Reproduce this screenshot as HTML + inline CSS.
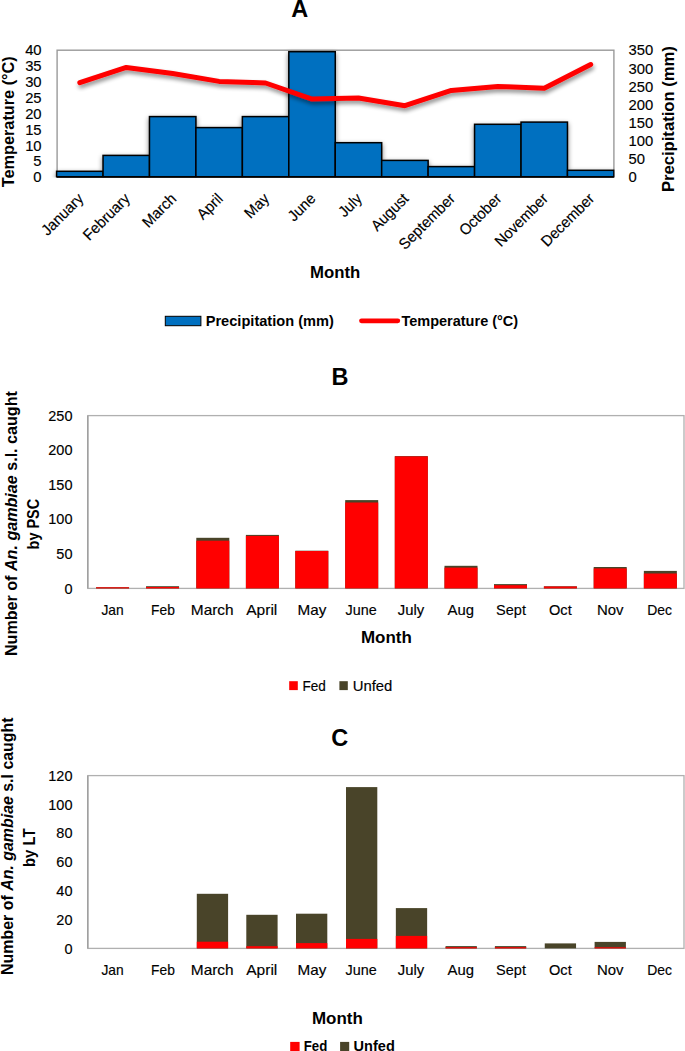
<!DOCTYPE html><html><head><meta charset="utf-8"><style>html,body{margin:0;padding:0;background:#fff;overflow:hidden;}svg{display:block;}text{font-family:"Liberation Sans", sans-serif;fill:#000;}text[font-weight="normal"]{stroke:#000;stroke-width:0.15px;}</style></head><body>
<svg width="685" height="1051" viewBox="0 0 685 1051">
<rect x="0" y="0" width="685" height="1051" fill="#fff"/>
<defs><filter id="sh" x="-20%" y="-20%" width="140%" height="150%"><feGaussianBlur in="SourceAlpha" stdDeviation="2.4"/><feOffset dx="0" dy="2"/><feComponentTransfer><feFuncA type="linear" slope="0.5"/></feComponentTransfer><feMerge><feMergeNode/><feMergeNode in="SourceGraphic"/></feMerge></filter><filter id="shl" x="-10%" y="-30%" width="120%" height="180%"><feGaussianBlur in="SourceAlpha" stdDeviation="2"/><feOffset dx="1" dy="2.5"/><feComponentTransfer><feFuncA type="linear" slope="0.45"/></feComponentTransfer><feMerge><feMergeNode/><feMergeNode in="SourceGraphic"/></feMerge></filter><clipPath id="clipA"><rect x="50" y="40" width="564.6" height="137.6"/></clipPath></defs>
<text x="299.7" y="17.0" font-size="23.5" font-weight="bold" text-anchor="middle">A</text>
<text x="41.6" y="182.2" font-size="14.8" font-weight="normal" text-anchor="end">0</text>
<text x="41.6" y="166.35" font-size="14.8" font-weight="normal" text-anchor="end">5</text>
<text x="41.6" y="150.5" font-size="14.8" font-weight="normal" text-anchor="end">10</text>
<text x="41.6" y="134.65" font-size="14.8" font-weight="normal" text-anchor="end">15</text>
<text x="41.6" y="118.8" font-size="14.8" font-weight="normal" text-anchor="end">20</text>
<text x="41.6" y="102.95" font-size="14.8" font-weight="normal" text-anchor="end">25</text>
<text x="41.6" y="87.1" font-size="14.8" font-weight="normal" text-anchor="end">30</text>
<text x="41.6" y="71.25" font-size="14.8" font-weight="normal" text-anchor="end">35</text>
<text x="41.6" y="55.4" font-size="14.8" font-weight="normal" text-anchor="end">40</text>
<text x="628.6" y="182.2" font-size="14.8" font-weight="normal" text-anchor="start">0</text>
<text x="628.6" y="164.09" font-size="14.8" font-weight="normal" text-anchor="start">50</text>
<text x="628.6" y="145.97" font-size="14.8" font-weight="normal" text-anchor="start">100</text>
<text x="628.6" y="127.86" font-size="14.8" font-weight="normal" text-anchor="start">150</text>
<text x="628.6" y="109.74" font-size="14.8" font-weight="normal" text-anchor="start">200</text>
<text x="628.6" y="91.63" font-size="14.8" font-weight="normal" text-anchor="start">250</text>
<text x="628.6" y="73.51" font-size="14.8" font-weight="normal" text-anchor="start">300</text>
<text x="628.6" y="55.4" font-size="14.8" font-weight="normal" text-anchor="start">350</text>
<text transform="translate(14.3,121.75) rotate(-90)" font-size="16" font-weight="bold" text-anchor="middle" textLength="131" lengthAdjust="spacingAndGlyphs">Temperature (°C)</text>
<text transform="translate(674.0,119.1) rotate(-90)" font-size="16" font-weight="bold" text-anchor="middle" textLength="146" lengthAdjust="spacingAndGlyphs">Precipitation (mm)</text>
<rect x="57.1" y="50.2" width="556.80" height="126.70" fill="none" stroke="#9a9a9a" stroke-width="1.4"/>
<g clip-path="url(#clipA)"><g filter="url(#sh)">
<rect x="56.60" y="171.3" width="46.44" height="5.60" fill="#0070C0" stroke="#000" stroke-width="1.5"/>
<rect x="103.04" y="155.4" width="46.44" height="21.50" fill="#0070C0" stroke="#000" stroke-width="1.5"/>
<rect x="149.48" y="116.6" width="46.44" height="60.30" fill="#0070C0" stroke="#000" stroke-width="1.5"/>
<rect x="195.92" y="127.6" width="46.44" height="49.30" fill="#0070C0" stroke="#000" stroke-width="1.5"/>
<rect x="242.37" y="116.6" width="46.44" height="60.30" fill="#0070C0" stroke="#000" stroke-width="1.5"/>
<rect x="288.81" y="51.7" width="46.44" height="125.20" fill="#0070C0" stroke="#000" stroke-width="1.5"/>
<rect x="335.25" y="142.7" width="46.44" height="34.20" fill="#0070C0" stroke="#000" stroke-width="1.5"/>
<rect x="381.69" y="160.4" width="46.44" height="16.50" fill="#0070C0" stroke="#000" stroke-width="1.5"/>
<rect x="428.13" y="166.6" width="46.44" height="10.30" fill="#0070C0" stroke="#000" stroke-width="1.5"/>
<rect x="474.57" y="124.3" width="46.44" height="52.60" fill="#0070C0" stroke="#000" stroke-width="1.5"/>
<rect x="521.02" y="122.1" width="46.44" height="54.80" fill="#0070C0" stroke="#000" stroke-width="1.5"/>
<rect x="567.46" y="170.3" width="46.44" height="6.60" fill="#0070C0" stroke="#000" stroke-width="1.5"/>
</g></g>
<line x1="56.6" y1="176.9" x2="613.9" y2="176.9" stroke="#000" stroke-width="1.6"/>
<polyline points="79.82,82.7 126.26,67.4 172.70,73.5 219.15,81.4 265.59,83.0 312.03,99.1 358.47,98.0 404.91,105.7 451.35,90.4 497.80,86.4 544.24,88.2 590.68,64.5" fill="none" stroke="#ff0000" stroke-width="5" stroke-linejoin="round" stroke-linecap="round" filter="url(#shl)"/>
<text transform="translate(84.42,199.6) rotate(-45)" font-size="15.4" font-weight="normal" text-anchor="end" textLength="52.32" lengthAdjust="spacingAndGlyphs">January</text>
<text transform="translate(130.86,199.6) rotate(-45)" font-size="15.4" font-weight="normal" text-anchor="end" textLength="58.85" lengthAdjust="spacingAndGlyphs">February</text>
<text transform="translate(177.30,199.6) rotate(-45)" font-size="15.4" font-weight="normal" text-anchor="end" textLength="40.86" lengthAdjust="spacingAndGlyphs">March</text>
<text transform="translate(223.75,199.6) rotate(-45)" font-size="15.4" font-weight="normal" text-anchor="end" textLength="29.42" lengthAdjust="spacingAndGlyphs">April</text>
<text transform="translate(270.19,199.6) rotate(-45)" font-size="15.4" font-weight="normal" text-anchor="end" textLength="27.78" lengthAdjust="spacingAndGlyphs">May</text>
<text transform="translate(316.63,199.6) rotate(-45)" font-size="15.4" font-weight="normal" text-anchor="end" textLength="31.89" lengthAdjust="spacingAndGlyphs">June</text>
<text transform="translate(363.07,199.6) rotate(-45)" font-size="15.4" font-weight="normal" text-anchor="end" textLength="26.15" lengthAdjust="spacingAndGlyphs">July</text>
<text transform="translate(409.51,199.6) rotate(-45)" font-size="15.4" font-weight="normal" text-anchor="end" textLength="45.79" lengthAdjust="spacingAndGlyphs">August</text>
<text transform="translate(455.95,199.6) rotate(-45)" font-size="15.4" font-weight="normal" text-anchor="end" textLength="71.94" lengthAdjust="spacingAndGlyphs">September</text>
<text transform="translate(502.40,199.6) rotate(-45)" font-size="15.4" font-weight="normal" text-anchor="end" textLength="52.32" lengthAdjust="spacingAndGlyphs">October</text>
<text transform="translate(548.84,199.6) rotate(-45)" font-size="15.4" font-weight="normal" text-anchor="end" textLength="67.84" lengthAdjust="spacingAndGlyphs">November</text>
<text transform="translate(595.28,199.6) rotate(-45)" font-size="15.4" font-weight="normal" text-anchor="end" textLength="67.84" lengthAdjust="spacingAndGlyphs">December</text>
<text x="310.0" y="277.5" font-size="16" font-weight="bold" text-anchor="start" textLength="50.28" lengthAdjust="spacingAndGlyphs">Month</text>
<rect x="165.3" y="316.3" width="35.6" height="9.4" fill="#0070C0" stroke="#000" stroke-width="1"/>
<text x="205.7" y="325.6" font-size="14.5" font-weight="bold" text-anchor="start" textLength="128.19" lengthAdjust="spacingAndGlyphs">Precipitation (mm)</text>
<line x1="361.5" y1="320.8" x2="397.8" y2="320.8" stroke="#ff0000" stroke-width="4.8" stroke-linecap="round"/>
<text x="401.4" y="325.8" font-size="14.5" font-weight="bold" text-anchor="start" textLength="116.79" lengthAdjust="spacingAndGlyphs">Temperature (°C)</text>
<text x="340.0" y="385.4" font-size="23.5" font-weight="bold" text-anchor="middle">B</text>
<rect x="87.9" y="415.6" width="596.1" height="172.79999999999995" fill="none" stroke="#b0b0b0" stroke-width="1.3"/>
<line x1="87.7" y1="415.6" x2="87.7" y2="588.4" stroke="#a0a0a0" stroke-width="1.4"/>
<text x="72.5" y="593.5" font-size="14.5" font-weight="normal" text-anchor="end">0</text>
<text x="72.5" y="558.94" font-size="14.5" font-weight="normal" text-anchor="end">50</text>
<text x="72.5" y="524.38" font-size="14.5" font-weight="normal" text-anchor="end">100</text>
<text x="72.5" y="489.82" font-size="14.5" font-weight="normal" text-anchor="end">150</text>
<text x="72.5" y="455.26" font-size="14.5" font-weight="normal" text-anchor="end">200</text>
<text x="72.5" y="420.7" font-size="14.5" font-weight="normal" text-anchor="end">250</text>
<rect x="96.05" y="587.3" width="33" height="1.10" fill="#494429"/>
<rect x="96.05" y="587.3" width="33" height="1.10" fill="#ff0000"/>
<rect x="146.05" y="586.2" width="33" height="2.20" fill="#494429"/>
<rect x="146.05" y="587.0" width="33" height="1.40" fill="#ff0000"/>
<rect x="196.30" y="537.8" width="33" height="50.60" fill="#494429"/>
<rect x="196.30" y="540.7" width="33" height="47.70" fill="#ff0000"/>
<rect x="245.90" y="534.9" width="33" height="53.50" fill="#494429"/>
<rect x="245.90" y="535.9" width="33" height="52.50" fill="#ff0000"/>
<rect x="295.30" y="550.7" width="33" height="37.70" fill="#494429"/>
<rect x="295.30" y="551.0" width="33" height="37.40" fill="#ff0000"/>
<rect x="345.20" y="500.1" width="33" height="88.30" fill="#494429"/>
<rect x="345.20" y="502.5" width="33" height="85.90" fill="#ff0000"/>
<rect x="394.80" y="456.1" width="33" height="132.30" fill="#494429"/>
<rect x="394.80" y="456.4" width="33" height="132.00" fill="#ff0000"/>
<rect x="444.50" y="565.8" width="33" height="22.60" fill="#494429"/>
<rect x="444.50" y="567.6" width="33" height="20.80" fill="#ff0000"/>
<rect x="494.00" y="584.1" width="33" height="4.30" fill="#494429"/>
<rect x="494.00" y="585.2" width="33" height="3.20" fill="#ff0000"/>
<rect x="543.90" y="586.3" width="33" height="2.10" fill="#494429"/>
<rect x="543.90" y="586.5" width="33" height="1.90" fill="#ff0000"/>
<rect x="593.70" y="567.0" width="33" height="21.40" fill="#494429"/>
<rect x="593.70" y="568.4" width="33" height="20.00" fill="#ff0000"/>
<rect x="643.85" y="570.9" width="33" height="17.50" fill="#494429"/>
<rect x="643.85" y="573.5" width="33" height="14.90" fill="#ff0000"/>
<text x="101.4" y="615.4" font-size="14.4" font-weight="normal" text-anchor="start" textLength="22.23" lengthAdjust="spacingAndGlyphs">Jan</text>
<text x="151.1" y="615.4" font-size="14.4" font-weight="normal" text-anchor="start" textLength="23.78" lengthAdjust="spacingAndGlyphs">Feb</text>
<text x="190.8" y="615.4" font-size="14.4" font-weight="normal" text-anchor="start" textLength="42.88" lengthAdjust="spacingAndGlyphs">March</text>
<text x="246.2" y="615.4" font-size="14.4" font-weight="normal" text-anchor="start" textLength="31.11" lengthAdjust="spacingAndGlyphs">April</text>
<text x="297.6" y="615.4" font-size="14.4" font-weight="normal" text-anchor="start" textLength="28.79" lengthAdjust="spacingAndGlyphs">May</text>
<text x="345.5" y="615.4" font-size="14.4" font-weight="normal" text-anchor="start" textLength="31.18" lengthAdjust="spacingAndGlyphs">June</text>
<text x="397.8" y="615.4" font-size="14.4" font-weight="normal" text-anchor="start" textLength="26.48" lengthAdjust="spacingAndGlyphs">July</text>
<text x="447.6" y="615.4" font-size="14.4" font-weight="normal" text-anchor="start" textLength="26.49" lengthAdjust="spacingAndGlyphs">Aug</text>
<text x="496.1" y="615.4" font-size="14.4" font-weight="normal" text-anchor="start" textLength="29.83" lengthAdjust="spacingAndGlyphs">Sept</text>
<text x="549.0" y="615.4" font-size="14.4" font-weight="normal" text-anchor="start" textLength="22.71" lengthAdjust="spacingAndGlyphs">Oct</text>
<text x="596.9" y="615.4" font-size="14.4" font-weight="normal" text-anchor="start" textLength="26.58" lengthAdjust="spacingAndGlyphs">Nov</text>
<text x="647.2" y="615.4" font-size="14.4" font-weight="normal" text-anchor="start" textLength="24.78" lengthAdjust="spacingAndGlyphs">Dec</text>
<text transform="translate(16.9,523.6) rotate(-90)" font-size="16" font-weight="bold" text-anchor="middle" textLength="265" lengthAdjust="spacingAndGlyphs">Number of <tspan font-style="italic">An. gambiae</tspan> s.l. caught</text>
<text transform="translate(39.2,524.15) rotate(-90)" font-size="16" font-weight="bold" text-anchor="middle" textLength="50.5" lengthAdjust="spacingAndGlyphs">by PSC</text>
<text x="360.9" y="642.9" font-size="16" font-weight="bold" text-anchor="start" textLength="50.88" lengthAdjust="spacingAndGlyphs">Month</text>
<rect x="289.2" y="681.2" width="8.6" height="8.9" fill="#ff0000"/>
<text x="302.5" y="690.5" font-size="14.4" font-weight="normal" text-anchor="start" textLength="23.38" lengthAdjust="spacingAndGlyphs">Fed</text>
<rect x="339.4" y="681.2" width="8.4" height="8.9" fill="#494429"/>
<text x="352.7" y="690.5" font-size="14.4" font-weight="normal" text-anchor="start" textLength="39.68" lengthAdjust="spacingAndGlyphs">Unfed</text>
<text x="339.7" y="745.6" font-size="23.5" font-weight="bold" text-anchor="middle">C</text>
<rect x="87.9" y="775.6" width="596.1" height="172.79999999999995" fill="none" stroke="#b0b0b0" stroke-width="1.3"/>
<line x1="87.7" y1="775.6" x2="87.7" y2="948.4" stroke="#a0a0a0" stroke-width="1.4"/>
<text x="72.5" y="953.5" font-size="14.5" font-weight="normal" text-anchor="end">0</text>
<text x="72.5" y="924.7" font-size="14.5" font-weight="normal" text-anchor="end">20</text>
<text x="72.5" y="895.9" font-size="14.5" font-weight="normal" text-anchor="end">40</text>
<text x="72.5" y="867.1" font-size="14.5" font-weight="normal" text-anchor="end">60</text>
<text x="72.5" y="838.3" font-size="14.5" font-weight="normal" text-anchor="end">80</text>
<text x="72.5" y="809.5" font-size="14.5" font-weight="normal" text-anchor="end">100</text>
<text x="72.5" y="780.7" font-size="14.5" font-weight="normal" text-anchor="end">120</text>
<rect x="196.80" y="893.8" width="31.3" height="54.60" fill="#494429"/>
<rect x="196.80" y="941.7" width="31.3" height="6.70" fill="#ff0000"/>
<rect x="246.30" y="914.8" width="31.3" height="33.60" fill="#494429"/>
<rect x="246.30" y="946.2" width="31.3" height="2.20" fill="#ff0000"/>
<rect x="296.00" y="913.7" width="31.3" height="34.70" fill="#494429"/>
<rect x="296.00" y="943.1" width="31.3" height="5.30" fill="#ff0000"/>
<rect x="346.00" y="787.1" width="31.3" height="161.30" fill="#494429"/>
<rect x="346.00" y="938.9" width="31.3" height="9.50" fill="#ff0000"/>
<rect x="395.85" y="908.1" width="31.3" height="40.30" fill="#494429"/>
<rect x="395.85" y="935.9" width="31.3" height="12.50" fill="#ff0000"/>
<rect x="445.55" y="946.1" width="31.3" height="2.30" fill="#494429"/>
<rect x="445.55" y="947.2" width="31.3" height="1.20" fill="#ff0000"/>
<rect x="494.90" y="946.1" width="31.3" height="2.30" fill="#494429"/>
<rect x="494.90" y="947.2" width="31.3" height="1.20" fill="#ff0000"/>
<rect x="544.75" y="943.4" width="31.3" height="5.00" fill="#494429"/>
<rect x="594.60" y="941.9" width="31.3" height="6.50" fill="#494429"/>
<rect x="594.60" y="947.3" width="31.3" height="1.10" fill="#ff0000"/>
<text x="101.4" y="975.4" font-size="14.4" font-weight="normal" text-anchor="start" textLength="22.23" lengthAdjust="spacingAndGlyphs">Jan</text>
<text x="151.1" y="975.4" font-size="14.4" font-weight="normal" text-anchor="start" textLength="23.78" lengthAdjust="spacingAndGlyphs">Feb</text>
<text x="190.8" y="975.4" font-size="14.4" font-weight="normal" text-anchor="start" textLength="42.88" lengthAdjust="spacingAndGlyphs">March</text>
<text x="246.2" y="975.4" font-size="14.4" font-weight="normal" text-anchor="start" textLength="31.11" lengthAdjust="spacingAndGlyphs">April</text>
<text x="297.6" y="975.4" font-size="14.4" font-weight="normal" text-anchor="start" textLength="28.79" lengthAdjust="spacingAndGlyphs">May</text>
<text x="345.5" y="975.4" font-size="14.4" font-weight="normal" text-anchor="start" textLength="31.18" lengthAdjust="spacingAndGlyphs">June</text>
<text x="397.8" y="975.4" font-size="14.4" font-weight="normal" text-anchor="start" textLength="26.48" lengthAdjust="spacingAndGlyphs">July</text>
<text x="447.6" y="975.4" font-size="14.4" font-weight="normal" text-anchor="start" textLength="26.49" lengthAdjust="spacingAndGlyphs">Aug</text>
<text x="496.1" y="975.4" font-size="14.4" font-weight="normal" text-anchor="start" textLength="29.83" lengthAdjust="spacingAndGlyphs">Sept</text>
<text x="549.0" y="975.4" font-size="14.4" font-weight="normal" text-anchor="start" textLength="22.71" lengthAdjust="spacingAndGlyphs">Oct</text>
<text x="596.9" y="975.4" font-size="14.4" font-weight="normal" text-anchor="start" textLength="26.58" lengthAdjust="spacingAndGlyphs">Nov</text>
<text x="647.2" y="975.4" font-size="14.4" font-weight="normal" text-anchor="start" textLength="24.78" lengthAdjust="spacingAndGlyphs">Dec</text>
<text transform="translate(12.6,846.15) rotate(-90)" font-size="16" font-weight="bold" text-anchor="middle" textLength="257.5" lengthAdjust="spacingAndGlyphs">Number of <tspan font-style="italic">An. gambiae</tspan> s.l caught</text>
<text transform="translate(35.0,847.7) rotate(-90)" font-size="16" font-weight="bold" text-anchor="middle" textLength="38.5" lengthAdjust="spacingAndGlyphs">by LT</text>
<text x="311.9" y="1023.5" font-size="16" font-weight="bold" text-anchor="start" textLength="50.88" lengthAdjust="spacingAndGlyphs">Month</text>
<rect x="290.2" y="1041.9" width="9.4" height="12" fill="#ff0000"/>
<text x="303.7" y="1051.3" font-size="15.2" font-weight="bold" text-anchor="start" textLength="23.57" lengthAdjust="spacingAndGlyphs">Fed</text>
<rect x="340.1" y="1041.9" width="9.1" height="12" fill="#494429"/>
<text x="353.6" y="1051.3" font-size="15.2" font-weight="bold" text-anchor="start" textLength="41.17" lengthAdjust="spacingAndGlyphs">Unfed</text>
</svg></body></html>
